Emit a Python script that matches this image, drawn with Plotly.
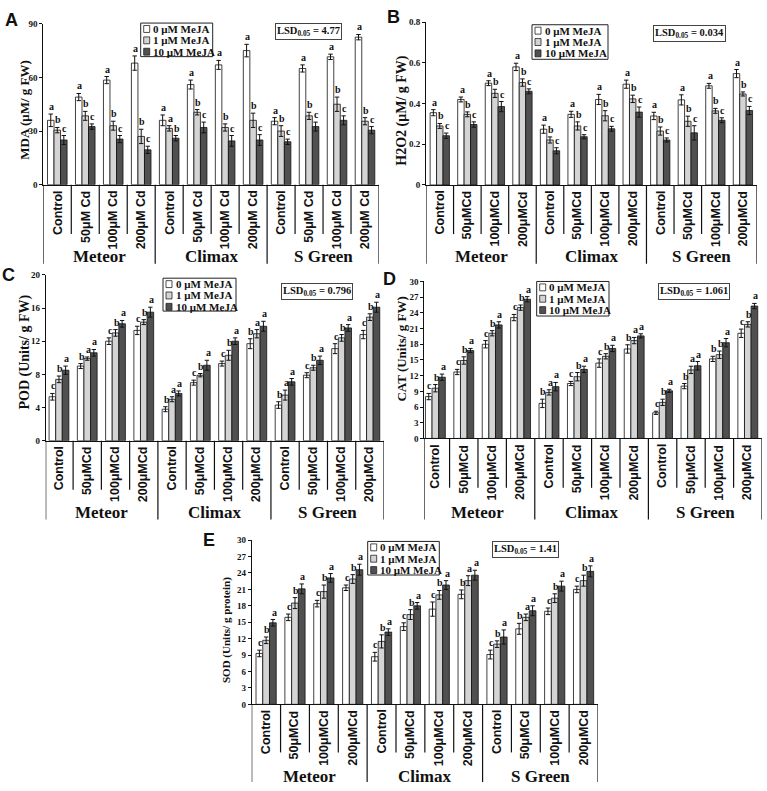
import plotly.graph_objects as go

W, H = 767, 791

# ---------------- data ----------------
varieties = ["Meteor", "Climax", "S Green"]
doses_A = ["Control", "50μM Cd", "100μM Cd", "200μM Cd"]
doses = ["Control", "50μMCd", "100μMCd", "200μMCd"]
series_names = ["0 μM MeJA", "1 μM MeJA", "10 μM MeJA"]

MDA_0 = [36, 49, 58.5, 68, 36, 56, 67, 75, 35.5, 65, 71.5, 82.5]
MDA_1 = [30.5, 38.5, 33, 27, 31.5, 40.5, 32, 36, 30, 38.5, 45, 35.5]
MDA_10 = [25, 32.5, 25.5, 19.5, 26, 32, 24.5, 25, 24, 32.5, 36, 30.5]
MDA_E0 = [3.5, 2, 2, 4, 3, 2.5, 2.5, 3.5, 2, 2, 1.5, 1.5]
MDA_E1 = [1.5, 2.5, 2.5, 4, 1.5, 1.5, 2, 4, 3, 2, 4, 2]
MDA_E10 = [2.5, 1.5, 2, 2, 1.5, 3, 3, 3, 1.5, 2.5, 2.5, 2]
MDA_L0 = ["a"] * 12
MDA_L1 = ["b", "b", "b", "b", "a", "b", "b", "b", "b", "b", "b", "b"]
MDA_L10 = ["c", "c", "c", "c", "b", "c", "c", "c", "c", "c", "c", "c"]

H2O2_0 = [0.355, 0.42, 0.50, 0.58, 0.274, 0.347, 0.42, 0.495, 0.339, 0.418, 0.487, 0.547]
H2O2_1 = [0.29, 0.347, 0.45, 0.503, 0.221, 0.29, 0.34, 0.423, 0.265, 0.313, 0.364, 0.447]
H2O2_10 = [0.242, 0.297, 0.385, 0.46, 0.168, 0.237, 0.276, 0.358, 0.221, 0.256, 0.318, 0.366]
H2O2_E0 = [0.015, 0.012, 0.012, 0.018, 0.02, 0.015, 0.025, 0.02, 0.018, 0.025, 0.012, 0.02]
H2O2_E1 = [0.012, 0.012, 0.02, 0.018, 0.015, 0.02, 0.025, 0.018, 0.02, 0.025, 0.012, 0.01]
H2O2_E10 = [0.013, 0.013, 0.025, 0.012, 0.015, 0.01, 0.012, 0.025, 0.01, 0.035, 0.012, 0.02]
H2O2_L0 = ["a"] * 12
H2O2_L1 = ["b"] * 12
H2O2_L10 = ["c"] * 12

POD_0 = [5.3, 9.0, 12.0, 13.3, 3.8, 7.0, 9.3, 11.7, 4.3, 7.9, 11.1, 12.8]
POD_1 = [7.4, 9.9, 13.0, 14.3, 5.0, 7.9, 10.3, 12.9, 5.5, 8.8, 12.4, 14.9]
POD_10 = [8.5, 10.6, 14.1, 15.5, 5.7, 9.1, 12.0, 13.8, 7.1, 9.7, 13.6, 16.1]
POD_E0 = [0.4, 0.3, 0.4, 0.5, 0.3, 0.3, 0.3, 0.6, 0.4, 0.3, 0.6, 0.5]
POD_E1 = [0.4, 0.2, 0.4, 0.3, 0.3, 0.2, 0.6, 0.5, 0.6, 0.3, 0.4, 0.4]
POD_E10 = [0.5, 0.4, 0.4, 0.6, 0.3, 0.6, 0.4, 0.6, 0.4, 0.5, 0.4, 0.6]
POD_L0 = ["c", "b", "c", "c", "b", "c", "c", "b", "b", "c", "c", "c"]
POD_L1 = ["b", "a", "b", "b", "a", "b", "b", "a", "a", "b", "b", "b"]
POD_L10 = ["a"] * 12

CAT_0 = [8.0, 12.7, 18.0, 23.1, 6.7, 10.5, 14.4, 17.1, 4.9, 10.0, 15.2, 20.1]
CAT_1 = [9.6, 14.9, 20.1, 25.0, 8.8, 11.8, 15.7, 18.7, 6.9, 13.1, 16.0, 21.8]
CAT_10 = [11.7, 16.8, 21.7, 26.6, 9.9, 13.2, 17.2, 19.6, 9.1, 13.9, 18.3, 25.3]
CAT_E0 = [0.6, 0.5, 0.7, 0.6, 0.8, 0.4, 0.8, 0.8, 0.3, 0.5, 0.5, 0.8]
CAT_E1 = [0.7, 0.7, 0.5, 0.5, 0.5, 0.8, 0.5, 0.6, 0.6, 0.7, 0.7, 0.5]
CAT_E10 = [0.6, 0.4, 0.6, 0.5, 0.8, 0.6, 0.6, 0.4, 0.3, 0.8, 0.8, 0.5]
CAT_L0 = ["c", "c", "c", "c", "b", "c", "c", "b", "c", "b", "b", "c"]
CAT_L1 = ["b", "b", "b", "b", "a", "b", "b", "a", "b", "a", "b", "b"]
CAT_L10 = ["a"] * 12

SOD_0 = [9.3, 15.9, 18.4, 21.3, 8.7, 14.2, 17.4, 20.1, 9.1, 13.8, 17.0, 21.0]
SOD_1 = [11.7, 18.5, 20.6, 22.9, 11.5, 16.4, 20.0, 22.6, 11.0, 15.9, 19.4, 22.6]
SOD_10 = [14.9, 21.1, 23.1, 24.6, 13.2, 18.0, 21.8, 23.6, 12.3, 17.1, 21.6, 24.3]
SOD_E0 = [0.6, 0.6, 0.6, 0.5, 0.8, 0.7, 1.3, 0.8, 0.8, 1.0, 0.6, 0.6]
SOD_E1 = [0.6, 1.0, 1.2, 0.8, 1.2, 0.9, 0.8, 0.9, 0.6, 0.6, 0.8, 1.0]
SOD_E10 = [0.6, 0.9, 0.8, 1.0, 0.6, 0.6, 0.8, 0.9, 1.3, 0.9, 0.9, 1.0]
SOD_L0 = ["c", "c", "c", "c", "c", "c", "c", "b", "c", "b", "c", "c"]
SOD_L1 = ["b", "b", "b", "b", "b", "b", "b", "a", "b", "a", "b", "b"]
SOD_L10 = ["a"] * 12

LSD_A, LSD_B, LSD_C, LSD_D, LSD_E = "4.77", "0.034", "0.796", "1.061", "1.41"

# ---------------- styling / layout ----------------
SERIF = "Liberation Serif"
SANS = "Liberation Sans"
BAR_COLORS = ["#ffffff", "#d4d4d4", "#505050"]
BARGAP = 0.30


def X(px):
    return px / W


def Y(py):
    return 1 - py / H


panels = [
    dict(letter="A", title="MDA (μM/ g FW)", tsize=13, tpos=(25, 107),
         vals=[MDA_0, MDA_1, MDA_10], errs=[MDA_E0, MDA_E1, MDA_E10],
         lets=[MDA_L0, MDA_L1, MDA_L10], lsd=LSD_A, labels=doses_A,
         x0=43.3, x1=379, r0=-0.5, ytop=19, ybot=182, ymax=90,
         ticks=[0, 30, 60, 90], tickfmt="{:g}",
         lpos=(11, 15), leg=(140.7, 18.3, 212.7, 52.3), lsdpos=(308, 26.7),
         lab_top=186, short_end=232, long_end=262, var_y=255),
    dict(letter="B", title="H2O2 (μM/ g FW)", tsize=14, tpos=(402, 106),
         vals=[H2O2_0, H2O2_1, H2O2_10], errs=[H2O2_E0, H2O2_E1, H2O2_E10],
         lets=[H2O2_L0, H2O2_L1, H2O2_L10], lsd=LSD_B, labels=doses,
         x0=426, x1=756.7, r0=-0.5, ytop=17.3, ybot=182.3, ymax=0.8,
         ticks=[0, 0.2, 0.4, 0.6, 0.8], tickfmt="{:g}",
         lpos=(393, 12.5), leg=(532, 20, 608, 55), lsdpos=(689, 29),
         lab_top=186, short_end=232, long_end=262, var_y=255),
    dict(letter="C", title="POD (Units/ g FW)", tsize=14, tpos=(25, 352),
         vals=[POD_0, POD_1, POD_10], errs=[POD_E0, POD_E1, POD_E10],
         lets=[POD_L0, POD_L1, POD_L10], lsd=LSD_C, labels=doses,
         x0=45.7, x1=384, r0=-0.47, ytop=273.3, ybot=441.3, ymax=20,
         ticks=[0, 4, 8, 12, 16, 20], tickfmt="{:g}",
         lpos=(8, 273), leg=(163, 276.7, 236, 310), lsdpos=(317, 290.5),
         lab_top=445, short_end=491, long_end=521, var_y=514),
    dict(letter="D", title="CAT (Units/ g FW)", tsize=13, tpos=(402, 348),
         vals=[CAT_0, CAT_1, CAT_10], errs=[CAT_E0, CAT_E1, CAT_E10],
         lets=[CAT_L0, CAT_L1, CAT_L10], lsd=LSD_D, labels=doses,
         x0=424.3, x1=762, r0=-0.39, ytop=280, ybot=439, ymax=30,
         ticks=[0, 3, 6, 9, 12, 15, 18, 21, 24, 27, 30], tickfmt="{:g}",
         lpos=(389, 278), leg=(536.7, 280, 609, 315), lsdpos=(693.5, 290.5),
         lab_top=443, short_end=489, long_end=521, var_y=514),
    dict(letter="E", title="SOD (Units/ g protein)", tsize=11, tpos=(227, 633),
         vals=[SOD_0, SOD_1, SOD_10], errs=[SOD_E0, SOD_E1, SOD_E10],
         lets=[SOD_L0, SOD_L1, SOD_L10], lsd=LSD_E, labels=doses,
         x0=251.7, x1=598, r0=-0.5, ytop=542, ybot=708.3, ymax=30,
         ticks=[0, 3, 6, 9, 12, 15, 18, 21, 24, 27, 30], tickfmt="{:g}",
         lpos=(209, 542), leg=(367.7, 543.3, 439.3, 577.3), lsdpos=(525.5, 551),
         lab_top=712, short_end=757, long_end=787, var_y=781),
]

fig = go.Figure()
shapes = []
annotations = []
layout = dict(width=W, height=H, margin=dict(l=0, r=0, t=0, b=0),
              paper_bgcolor="white", plot_bgcolor="white",
              barmode="group", bargap=BARGAP, bargroupgap=0, showlegend=False)

n_cat = len(varieties) * len(doses)
xs = list(range(n_cat))
bw = (1 - BARGAP) / 3

for k, p in enumerate(panels, start=1):
    xr = "x" if k == 1 else f"x{k}"
    yr = "y" if k == 1 else f"y{k}"
    xname = "xaxis" if k == 1 else f"xaxis{k}"
    yname = "yaxis" if k == 1 else f"yaxis{k}"

    for j in range(3):
        fig.add_trace(go.Bar(
            x=xs, y=p["vals"][j], name=series_names[j], xaxis=xr, yaxis=yr,
            marker=dict(color=BAR_COLORS[j], line=dict(color="#111", width=0.8)),
            error_y=dict(type="data", array=p["errs"][j], color="#111",
                         thickness=1, width=2.2),
        ))
        for i in xs:
            annotations.append(dict(
                x=i + (j - 1) * bw + 0.04, y=p["vals"][j][i] + p["errs"][j][i],
                xref=xr, yref=yr, text=p["lets"][j][i], showarrow=False,
                yanchor="bottom", yshift=0,
                font=dict(family=SERIF, size=10, color="#111", weight="bold")))

    layout[xname] = dict(domain=[X(p["x0"]), X(p["x1"])], anchor=yr,
                         range=[p["r0"], n_cat - 0.5], showticklabels=False,
                         showgrid=False, zeroline=False, showline=True,
                         linecolor="#111", linewidth=1, ticks="", fixedrange=True)
    layout[yname] = dict(domain=[Y(p["ybot"]), Y(p["ytop"])], anchor=xr,
                         range=[0, p["ymax"]], tickvals=p["ticks"],
                         ticktext=[p["tickfmt"].format(t) for t in p["ticks"]],
                         showgrid=False, zeroline=False, showline=True,
                         linecolor="#111", linewidth=1, ticks="outside",
                         ticklen=3, tickcolor="#111",
                         tickfont=dict(family=SERIF, size=9, color="#111", weight="bold"),
                         fixedrange=True)

    # bottom category box: separators
    bounds = [p["r0"]] + [i + 0.5 for i in xs]
    for bi, b in enumerate(bounds):
        long_line = (bi % len(doses) == 0)
        shapes.append(dict(type="line", xref=xr, yref="paper", x0=b, x1=b,
                           y0=Y(p["ybot"]),
                           y1=Y(p["long_end"] if long_line else p["short_end"]),
                           line=dict(color="#111", width=1.2)))
    # category labels
    for i in xs:
        annotations.append(dict(
            x=i, y=Y(p["lab_top"]), xref=xr, yref="paper",
            text=p["labels"][i % len(doses)], textangle=-90, showarrow=False,
            yanchor="top", xanchor="center",
            font=dict(family=SANS, size=12.5, color="#111", weight="bold")))
    # variety labels
    for v, name in enumerate(varieties):
        annotations.append(dict(
            x=v * len(doses) + (len(doses) - 1) / 2, y=Y(p["var_y"]),
            xref=xr, yref="paper", text=name, showarrow=False,
            yanchor="middle", xanchor="center",
            font=dict(family=SERIF, size=17, color="#111", weight="bold")))

    # y title
    annotations.append(dict(x=X(p["tpos"][0]), y=Y(p["tpos"][1]), xref="paper",
                            yref="paper", text=p["title"], textangle=-90,
                            showarrow=False, xanchor="center", yanchor="middle",
                            font=dict(family=SERIF, size=p["tsize"], color="#111",
                                      weight="bold")))
    # panel letter
    annotations.append(dict(x=X(p["lpos"][0]), y=Y(p["lpos"][1]), xref="paper",
                            yref="paper", text=p["letter"], showarrow=False,
                            xanchor="center", yanchor="middle",
                            font=dict(family=SANS, size=18, color="#111",
                                      weight="bold")))
    # legend box (manual)
    lx0, ly0, lx1, ly1 = p["leg"]
    shapes.append(dict(type="rect", xref="paper", yref="paper",
                       x0=X(lx0), x1=X(lx1), y0=Y(ly1), y1=Y(ly0),
                       line=dict(color="#222", width=1), fillcolor="white"))
    for j in range(3):
        cy = ly0 + 6 + j * 11.5
        shapes.append(dict(type="rect", xref="paper", yref="paper",
                           x0=X(lx0 + 3), x1=X(lx0 + 9), y0=Y(cy + 3.5), y1=Y(cy - 3.5),
                           line=dict(color="#222", width=0.8), fillcolor=BAR_COLORS[j]))
        annotations.append(dict(x=X(lx0 + 10.5), y=Y(cy), xref="paper", yref="paper",
                                text=series_names[j], showarrow=False,
                                xanchor="left", yanchor="middle",
                                font=dict(family=SERIF, size=11, color="#111",
                                          weight="bold")))
    # LSD box
    annotations.append(dict(x=X(p["lsdpos"][0]), y=Y(p["lsdpos"][1]), xref="paper",
                            yref="paper",
                            text="LSD<sub>0.05</sub> = " + p["lsd"],
                            showarrow=False, xanchor="center", yanchor="middle",
                            bordercolor="#444", borderwidth=1, borderpad=1,
                            bgcolor="white",
                            font=dict(family=SERIF, size=10.5, color="#111",
                                      weight="bold")))

layout["shapes"] = shapes
layout["annotations"] = annotations
fig.update_layout(**layout)
fig.write_html("out.html",
               config={"displayModeBar": False, "staticPlot": False},
               post_script="document.body.style.margin='0px';"
                           "document.body.style.overflow='hidden';")
